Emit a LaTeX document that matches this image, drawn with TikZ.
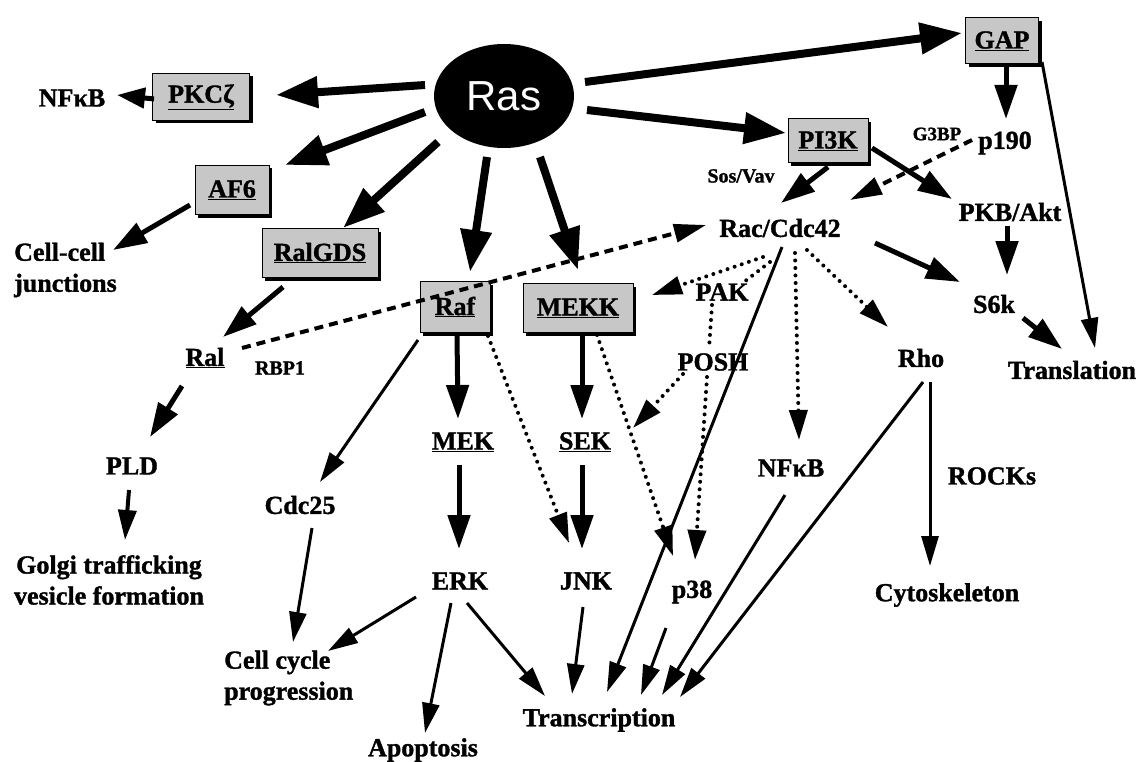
\documentclass[tikz,border=0pt]{standalone}
\usepackage{fontspec}
\setmainfont{Liberation Serif}[BoldFeatures={FakeBold=1.3}]
\newfontfamily\rasfont{Liberation Sans}
\usetikzlibrary{arrows.meta,calc,shadows,shapes.geometric}
\begin{document}
\begin{tikzpicture}[x=1pt,y=-1pt,
  lbl/.style={font=\fontsize{26}{31}\selectfont\bfseries, inner sep=0pt},
  small/.style={font=\fontsize{19}{22}\selectfont\bfseries, inner sep=0pt},
  kbox/.style={lbl, draw=black, line width=1pt, fill=black!22,
    drop shadow={shadow xshift=3pt, shadow yshift=-3pt, fill=black, opacity=1}},
  ras/.style={ellipse, fill=black, minimum width=140pt, minimum height=104pt, inner sep=0pt,
    text=white, font=\rasfont\fontsize{42}{46}\selectfont},
  big/.style={line width=8pt, -{Triangle[length=42pt,width=30pt]}},
  mid/.style={line width=5pt, -{Triangle[length=34pt,width=22pt]}},
  thin/.style={line width=3pt, -{Triangle[length=30pt,width=17pt]}},
  dotl/.style={line width=4pt, line cap=round, dash pattern=on 0pt off 7.5pt},
  dota/.style={dotl, -{Triangle[length=30pt,width=18pt]}},
  dashl/.style={line width=4pt, dash pattern=on 9pt off 6pt, -{Triangle[length=32pt,width=18pt]}}
]
\useasboundingbox (0,0) rectangle (1139,762);
\fill[white] (0,0) rectangle (1139,762);

% nodes
\node[ras] (Ras) at (504,96) {Ras};
\node[kbox, minimum width=97pt, minimum height=47pt] (PKC) at (201,97) {\underline{PKCζ}};
\node[lbl] (NFa) at (72,98) {NFκB};
\node[kbox, minimum width=74pt, minimum height=49pt] (AF6) at (232,190) {\underline{AF6}};
\node[lbl, align=left, anchor=west] (cc) at (14,270) {Cell-cell\\junctions};
\node[kbox, minimum width=116pt, minimum height=49pt] (RalGDS) at (320,253) {\underline{RalGDS}};
\node[kbox, minimum width=70pt, minimum height=51pt] (Raf) at (455,307) {\underline{Raf}};
\node[kbox, minimum width=110pt, minimum height=49pt] (MEKK) at (578,308) {\underline{MEKK}};
\node[kbox, minimum width=80pt, minimum height=44pt] (PI3K) at (828,141) {\underline{PI3K}};
\node[kbox, minimum width=73pt, minimum height=46pt] (GAP) at (1002,41) {\underline{GAP}};
\node[lbl] (p190) at (1005,143) {p190};
\node[small] (G3BP) at (937,134) {G3BP};
\node[small, font=\fontsize{20}{22}\selectfont\bfseries] (SosVav) at (741,176) {Sos/Vav};
\node[lbl] (Rac) at (780,228) {Rac/Cdc42};
\node[lbl] (PKB) at (1010,212) {PKB/Akt};
\node[lbl] (S6k) at (994,304) {S6k};
\node[lbl] (Trl) at (1072,370) {Translation};
\node[lbl] (Rho) at (921,358) {Rho};
\node[lbl] (ROCK) at (992,476) {ROCKs};
\node[lbl] (Cyto) at (947,595) {Cytoskeleton};
\node[lbl] (NFb) at (791,468) {NFκB};
\node[lbl] (PAK) at (722,292) {PAK};
\node[lbl] (POSH) at (713,362) {POSH};
\node[lbl] (MEK) at (463,442) {\underline{MEK}};
\node[lbl] (SEK) at (585,442) {\underline{SEK}};
\node[lbl] (ERK) at (460,581) {ERK};
\node[lbl] (JNK) at (586,581) {JNK};
\node[lbl] (p38) at (692,592) {p38};
\node[lbl] (Tx) at (599,720) {Transcription};
\node[lbl] (Apop) at (423,750) {Apoptosis};
\node[lbl, align=left, anchor=west] (cyc) at (224,678) {Cell cycle\\progression};
\node[lbl] (Cdc25) at (300,505) {Cdc25};
\node[lbl] (Ral) at (205,358) {\underline{Ral}};
\node[small, font=\fontsize{20}{22}\selectfont\bfseries] (RBP1) at (280,368) {RBP1};
\node[lbl] (PLD) at (132,466) {PLD};
\node[lbl, align=center] (Golgi) at (109,580) {Golgi trafficking\\vesicle formation};

% Ras arrows
\draw[big] ($(Ras)+(-79,-11)$) -- ($(PKC)+(75,-2)$);
\draw[big] ($(Ras)+(-79,16)$) -- ($(AF6)+(53,-25)$);
\draw[big] ($(Ras)+(-66,46)$) -- ($(RalGDS)+(23,-25)$);
\draw[big] ($(Ras)+(-17,61)$) -- ($(Raf)+(15,-35)$);
\draw[big] ($(Ras)+(36,61)$) -- ($(MEKK)+(0,-38)$);
\draw[big] ($(Ras)+(83,14)$) -- ($(PI3K)+(-42,-8)$);
\draw[big] ($(Ras)+(81,-14)$) -- ($(GAP)+(-40,-8)$);

% left side
\draw[mid, -{Triangle[length=28pt,width=20pt]}] ($(PKC)+(-47,2)$) -- ($(NFa)+(45,-3)$);
\draw[mid] ($(AF6)+(-42,15)$) -- ($(cc.west)+(99,-20)$);
\draw[mid] ($(RalGDS)+(-37,34)$) -- ($(Ral)+(18,-21)$);
\draw[mid] ($(Ral)+(-23,28)$) -- ($(PLD)+(18,-29)$);
\draw[mid, line width=4pt, -{Triangle[length=30pt,width=18pt]}] ($(PLD)+(-3,24)$) -- ($(Golgi)+(16,-40)$);
\draw[dashl] ($(Ral)+(37,-10)$) -- ($(Rac)+(-74,-3)$);

% Raf / MEKK
\draw[mid] ($(Raf)+(2,28)$) -- ($(MEK)+(-5,-23)$);
\draw[mid] ($(MEKK)+(4,27)$) -- ($(SEK)+(-3,-23)$);
\draw[mid] ($(MEK)+(-4,23)$) -- ($(ERK)+(-1,-32)$);
\draw[mid] ($(SEK)+(-3,23)$) -- ($(JNK)+(-4,-32)$);
\draw[thin] ($(Raf)+(-37,33)$) -- ($(Cdc25)+(20,-23)$);
\draw[thin] ($(Cdc25)+(12,23)$) -- ($(cyc.west)+(69,-36)$);
\draw[dota] ($(Raf)+(33,29)$) -- ($(JNK)+(-17,-38)$);
\draw[dota] ($(MEKK)+(19,27)$) -- ($(p38)+(-19,-36)$);

% ERK / JNK / p38
\draw[thin] ($(ERK)+(-44,16)$) -- ($(cyc.west)+(104,-27)$);
\draw[thin] ($(ERK)+(-9,22)$) -- ($(Apop)+(2,-17)$);
\draw[thin] ($(ERK)+(7,22)$) -- ($(Tx)+(-54,-24)$);
\draw[thin] ($(JNK)+(-3,26)$) -- ($(Tx)+(-27,-26)$);
\draw[thin] ($(p38)+(-26,36)$) -- ($(Tx)+(42,-25)$);

% PI3K / GAP
\draw[mid] ($(GAP)+(4,25)$) -- ($(p190)+(1,-24)$);
\draw[thin] ($(GAP)+(40,21)$) -- ($(Trl)+(23,-22)$);
\draw[mid] ($(PI3K)+(0,26)$) -- ($(Rac)+(1,-25)$);
\draw[mid] ($(PI3K)+(44,7)$) -- ($(PKB)+(-58,-13)$);
\draw[dashl] ($(p190)+(-33,-3)$) -- ($(Rac)+(70,-28)$);
\draw[mid] ($(PKB)+(-3,14)$) -- ($(S6k)+(13,-29)$);
\draw[mid] ($(Rac)+(95,15)$) -- ($(S6k)+(-34,-22)$);
\draw[mid] ($(S6k)+(29,14)$) -- ($(Trl)+(-10,-21)$);

% Rac effectors
\draw[dota] ($(Rac)+(27,22)$) -- ($(Rho)+(-33,-31)$);
\draw[dota] ($(Rac)+(15,25)$) -- ($(NFb)+(8,-28)$);
\draw[thin] ($(Rac)+(2,19)$) -- ($(Tx)+(8,-28)$);
\draw[dota] ($(Rac)+(-17,29)$) -- ($(MEKK)+(74,-13)$);
\draw[dotl] ($(Rac)+(-10,34)$) -- ($(PAK)+(22,-10)$);
\draw[dotl] ($(PAK)+(-10,13)$) -- ($(POSH)+(-4,-13)$);
\draw[dota] ($(POSH)+(-30,12)$) -- ($(SEK)+(48,-14)$);
\draw[dota] ($(POSH)+(-6,15)$) -- ($(p38)+(3,-32)$);

% Rho / NFkB
\draw[thin] ($(Rho)+(9,24)$) -- ($(Cyto)+(-17,-29)$);
\draw[thin] ($(Rho)+(2,24)$) -- ($(Tx)+(81,-23)$);
\draw[thin] ($(NFb)+(-6,27)$) -- ($(Tx)+(63,-25)$);
\end{tikzpicture}
\end{document}
